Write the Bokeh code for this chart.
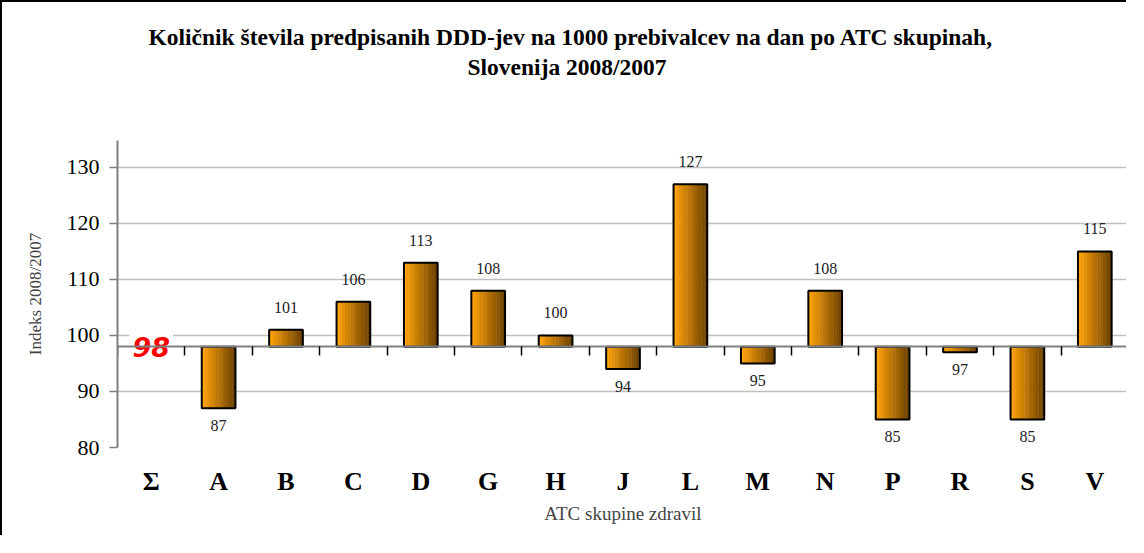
from bokeh.plotting import figure
from bokeh.models import FactorRange, Range1d, LinearAxis, FixedTicker, ColumnDataSource, Title
from bokeh.transform import dodge
from bokeh.core.properties import value
from bokeh.embed import file_html
from bokeh.resources import INLINE

title_lines = ["Količnik števila predpisanih DDD-jev na 1000 prebivalcev na dan po ATC skupinah,",
               "Slovenija 2008/2007"]
cats = ["Σ", "A", "B", "C", "D", "G", "H", "J", "L", "M", "N", "P", "R", "S", "V"]
vals = [98, 87, 101, 106, 113, 108, 100, 94, 127, 95, 108, 85, 97, 85, 115]
base = 98
y_ticks = [80, 90, 100, 110, 120, 130]
x_title = "ATC skupine zdravil"
y_title = "Indeks 2008/2007"

SERIF = "Liberation Serif"

p = figure(x_range=FactorRange(*cats, range_padding=0), y_range=Range1d(80, 134.8),
           width=1126, height=535, output_backend="svg", toolbar_location=None,
           title=None,
           min_border_left=115, min_border_right=0, min_border_top=138, min_border_bottom=90)
p.styles = {"border-left": "2px solid black", "border-top": "2px solid black",
            "border-right": "0px none", "border-bottom": "0px none"}
p.outline_line_color = None
p.background_fill_color = "white"
p.border_fill_color = "white"

xa = p.below[0]
ya = p.left[0]

# category labels axis (the default axis below the frame)
xa.axis_line_color = None
xa.major_tick_line_color = None
xa.minor_tick_line_color = None
xa.major_label_text_font = SERIF
xa.major_label_text_font_style = "bold"
xa.major_label_text_font_size = "26px"
xa.major_label_text_color = "black"
xa.major_label_standoff = 13
xa.axis_label = x_title
xa.axis_label_text_font = SERIF
xa.axis_label_text_font_style = "normal"
xa.axis_label_text_font_size = "19px"
xa.axis_label_standoff = 4

# white spacer title next to the frame, then the two title lines
p.add_layout(Title(text=".", text_font_size="8px", text_color="white", standoff=54), "above")
p.add_layout(Title(text=title_lines[1], align="left", offset=350, standoff=0,
                   text_font=SERIF, text_font_style="bold", text_font_size="23.5px",
                   text_color="black"), "above")
p.add_layout(Title(text=title_lines[0], align="left", offset=31, standoff=3,
                   text_font=SERIF, text_font_style="bold", text_font_size="23.5px",
                   text_color="black"), "above")

# baseline axis at 98 with ticks between categories (no labels)
base_axis = LinearAxis(fixed_location=base,
                       ticker=FixedTicker(ticks=list(range(len(cats) + 1))),
                       axis_line_color="#808080", axis_line_width=2,
                       major_tick_out=9, major_tick_in=0,
                       major_tick_line_color="black", major_tick_line_width=1.5,
                       minor_tick_line_color=None,
                       major_label_text_color=None)
p.add_layout(base_axis, "below")

ya.ticker = FixedTicker(ticks=y_ticks)
ya.axis_line_color = "#808080"
ya.axis_line_width = 2
ya.major_tick_out = 8
ya.major_tick_in = 0
ya.major_tick_line_color = "#808080"
ya.major_tick_line_width = 1.5
ya.minor_tick_line_color = None
ya.major_label_text_font = SERIF
ya.major_label_text_font_size = "22px"
ya.major_label_text_color = "black"
ya.major_label_standoff = 10
ya.axis_label = y_title
ya.axis_label_text_font = SERIF
ya.axis_label_text_font_style = "normal"
ya.axis_label_text_font_size = "17px"
ya.axis_label_standoff = 19

p.xgrid.grid_line_color = None
p.ygrid.ticker = FixedTicker(ticks=y_ticks)
p.ygrid.grid_line_color = "#c0c0c0"
p.ygrid.grid_line_width = 1.5

src = ColumnDataSource(dict(cat=cats, val=vals))

# gradient-like bars made of vertical slices
N = 12
bw = 0.5
c0 = (255, 162, 10)
c1 = (112, 68, 0)
for k in range(N):
    t = k / (N - 1)
    col = "#%02x%02x%02x" % tuple(int(round(a + (b - a) * t)) for a, b in zip(c0, c1))
    off = -bw / 2 + bw / N * (k + 0.5)
    p.vbar(x=dodge("cat", off, range=p.x_range), top="val", bottom=base,
           width=bw / N * 1.15, fill_color=col, line_color=None, source=src)
p.vbar(x="cat", top="val", bottom=base, width=bw, fill_color=None,
       line_color="black", line_width=2, source=src)

pos = [(c, v) for c, v in zip(cats, vals) if v > base]
neg = [(c, v) for c, v in zip(cats, vals) if v < base]
src_pos = ColumnDataSource(dict(cat=[c for c, v in pos], val=[v for c, v in pos],
                                lab=[str(v) for c, v in pos]))
src_neg = ColumnDataSource(dict(cat=[c for c, v in neg], val=[v for c, v in neg],
                                lab=[str(v) for c, v in neg]))
p.text(x="cat", y="val", text="lab", source=src_pos, text_font=value(SERIF),
       text_font_size="16px", text_color="#222222", text_align="center",
       text_baseline="bottom", y_offset=-17)
p.text(x="cat", y="val", text="lab", source=src_neg, text_font=value(SERIF),
       text_font_size="16px", text_color="#222222", text_align="center",
       text_baseline="top", y_offset=12)

# total (Σ) value label in red
p.text(x=[cats[0]], y=[vals[0]], text=[str(vals[0])], text_font=value("DejaVu Sans"),
       text_font_style="bold italic", text_font_size="27px", text_color="red",
       text_align="center", text_baseline="middle",
       background_fill_color="white", padding=3)

open("out.html", "w").write(file_html(p, INLINE))
